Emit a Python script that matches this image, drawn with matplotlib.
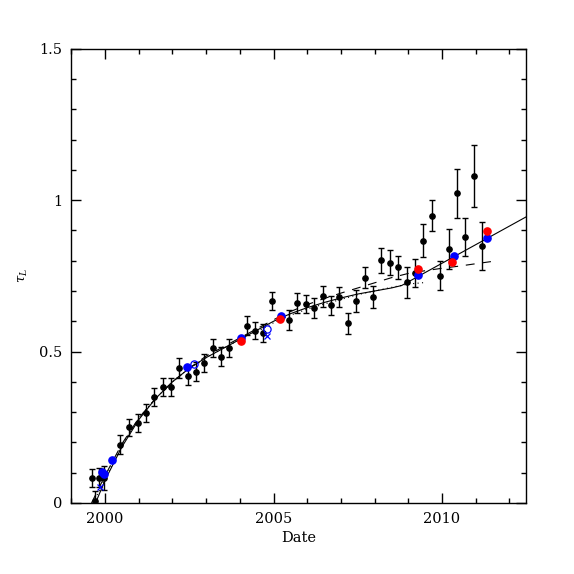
import matplotlib
matplotlib.use("Agg")
import matplotlib.pyplot as plt
from matplotlib.ticker import MultipleLocator, FuncFormatter

plt.rcParams["font.family"] = ["DejaVu Serif"]
plt.rcParams["mathtext.fontset"] = "dejavuserif"

# monitoring points with 1-sigma errors
obs_date = [1999.62, 1999.71, 1999.81, 1999.96, 2000.45, 2000.70, 2000.97, 2001.21,
            2001.46, 2001.71, 2001.95, 2002.21, 2002.45, 2002.70, 2002.94, 2003.20,
            2003.44, 2003.69, 2004.21, 2004.46, 2004.70, 2004.96, 2005.45, 2005.70,
            2005.96, 2006.21, 2006.46, 2006.70, 2006.95, 2007.21, 2007.46, 2007.70,
            2007.96, 2008.20, 2008.45, 2008.70, 2008.95, 2009.21, 2009.44, 2009.70,
            2009.94, 2010.20, 2010.44, 2010.69, 2010.94, 2011.19]
obs_tau = [0.082, 0.008, 0.084, 0.082, 0.193, 0.250, 0.265, 0.298,
           0.351, 0.384, 0.384, 0.445, 0.420, 0.434, 0.463, 0.511,
           0.483, 0.511, 0.585, 0.569, 0.562, 0.668, 0.603, 0.659,
           0.657, 0.643, 0.683, 0.653, 0.681, 0.593, 0.667, 0.744,
           0.680, 0.802, 0.793, 0.778, 0.729, 0.760, 0.866, 0.949,
           0.750, 0.839, 1.022, 0.877, 1.080, 0.848]
obs_err = [0.030, 0.030, 0.030, 0.040, 0.030, 0.029, 0.030, 0.030,
           0.030, 0.030, 0.030, 0.033, 0.030, 0.031, 0.029, 0.029,
           0.031, 0.030, 0.031, 0.029, 0.030, 0.030, 0.033, 0.033,
           0.031, 0.033, 0.035, 0.031, 0.033, 0.035, 0.037, 0.034,
           0.036, 0.041, 0.041, 0.037, 0.051, 0.046, 0.054, 0.051,
           0.048, 0.065, 0.081, 0.063, 0.103, 0.080]

blue_date = [1999.90, 1999.98, 2000.22, 2002.43, 2004.03, 2005.21, 2009.29, 2010.35, 2011.33]
blue_tau = [0.102, 0.097, 0.142, 0.448, 0.544, 0.618, 0.753, 0.814, 0.876]

red_date = [2004.03, 2005.19, 2009.29, 2010.30, 2011.32]
red_tau = [0.535, 0.606, 0.773, 0.795, 0.898]

open_date = [2002.65, 2004.80]
open_tau = [0.458, 0.574]

cross_date = [1999.84, 2004.82]
cross_tau = [0.054, 0.551]

# model curves
solid_date = [1999.72, 2000.0, 2000.5, 2001.0, 2001.5, 2002.0, 2002.5, 2003.0, 2003.5,
              2004.0, 2004.5, 2005.0, 2005.5, 2006.0, 2006.5, 2007.0, 2007.5, 2008.0,
              2008.5, 2008.8, 2012.5]
solid_tau = [0.0, 0.075, 0.185, 0.275, 0.345, 0.400, 0.445, 0.480, 0.510,
             0.540, 0.570, 0.600, 0.625, 0.645, 0.662, 0.677, 0.690, 0.700,
             0.710, 0.718, 0.945]

dash_date = [1999.60, 2000.0, 2000.5, 2001.0, 2001.5, 2002.0, 2002.5, 2003.0, 2003.5,
             2004.0, 2004.5, 2005.0, 2005.5, 2006.0, 2006.5, 2007.0, 2007.5, 2008.0,
             2008.5, 2009.0, 2009.5, 2010.0, 2010.5, 2011.0, 2011.45]
dash_tau = [0.0, 0.090, 0.195, 0.280, 0.345, 0.400, 0.445, 0.485, 0.515,
            0.545, 0.575, 0.605, 0.632, 0.655, 0.675, 0.693, 0.710, 0.727,
            0.744, 0.758, 0.767, 0.775, 0.782, 0.790, 0.797]

dot_date = [1999.65, 2000.0, 2000.5, 2001.0, 2001.5, 2002.0, 2002.5, 2003.0, 2003.5,
            2004.0, 2004.5, 2005.0, 2005.5, 2006.0, 2006.5, 2007.0, 2007.5, 2008.0,
            2008.5, 2009.0, 2009.5]
dot_tau = [0.0, 0.080, 0.190, 0.280, 0.345, 0.400, 0.445, 0.480, 0.510,
           0.540, 0.565, 0.595, 0.620, 0.640, 0.657, 0.672, 0.688, 0.700,
           0.712, 0.723, 0.728]


fig = plt.figure(figsize=(5.74, 5.74), dpi=100)
ax = fig.add_axes([71.3 / 574, 71 / 574, 455 / 574, 454.3 / 574])

ax.plot(solid_date, solid_tau, color="black", lw=0.8, ls="-")
ax.plot(dash_date, dash_tau, color="black", lw=0.8, ls=(0, (8, 7)))
ax.plot(dot_date, dot_tau, color="black", lw=0.8, ls=(0, (1, 3)))

ax.errorbar(obs_date, obs_tau, yerr=obs_err, fmt="o", color="black", ms=3.8,
            elinewidth=1.0, capsize=2.3, capthick=1.0, zorder=4)

ax.plot(blue_date, blue_tau, "o", color="blue", ms=5.2, zorder=5)
ax.plot(red_date, red_tau, "o", color="red", ms=5.2, zorder=6)
ax.plot(open_date, open_tau, "o", mfc="none", mec="blue", mew=0.9, ms=5.2, zorder=5)
ax.plot(cross_date, cross_tau, "x", color="blue", mew=0.9, ms=4.5, zorder=5)

ax.set_xlim(1999.0, 2012.5)
ax.set_ylim(0, 1.5)
ax.xaxis.set_major_locator(MultipleLocator(5))
ax.xaxis.set_minor_locator(MultipleLocator(1))
ax.yaxis.set_major_locator(MultipleLocator(0.5))
ax.yaxis.set_minor_locator(MultipleLocator(0.1))
ax.yaxis.set_major_formatter(FuncFormatter(lambda v, p: f"{v:g}"))
ax.xaxis.set_major_formatter(FuncFormatter(lambda v, p: f"{v:.0f}"))
ax.tick_params(which="both", direction="in", top=True, right=True, width=1.0,
               labelsize=10.5)
ax.tick_params(which="major", length=7.5, pad=6.5)
ax.tick_params(which="minor", length=3.8)
for s in ax.spines.values():
    s.set_linewidth(1.0)

ax.set_xlabel("Date", fontsize=10.5)
ax.xaxis.set_label_coords(0.5, -0.062)
ax.set_ylabel(r"$\tau_L$", fontsize=9.5)
ax.yaxis.set_label_coords(-0.091, 0.5)

fig.savefig("out.png", dpi=100)
